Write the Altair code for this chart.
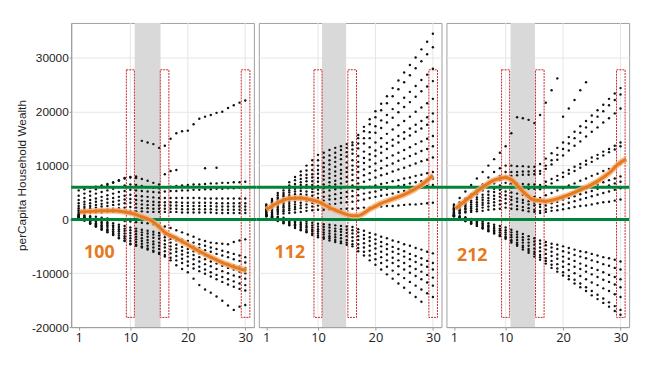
import altair as alt
import pandas as pd

X = list(range(1, 31))
Y_TICKS = [-20000, -10000, 0, 10000, 20000, 30000]
X_TICKS = [1, 10, 20, 30]
X_GRID = [10, 20, 30]
X_DOMAIN = [-0.3, 31.5]
Y_DOMAIN = [-20000, 36500]

PANEL_LABELS = ["100", "112", "212"]
LABEL_X = [4.6, 5.1, 4.2]
LABEL_Y = [-6300, -6300, -6800]
GREEN_Y = [0, 6000]
BAND_X = [10.75, 10.7, 10.85]
BAND_X2 = [15.25, 14.9, 15.1]
BOX_X = [9.3, 15.2, 29.3]
BOX_X2 = [10.7, 16.7, 30.8]
BOX_Y = -18200
BOX_Y2 = 27800

# wealth tracks, thousands, one value per x = 1..30
TRACKS_100 = [
    [5.4,5.6,5.9,6.1,6.3,6.6,6.9,7.3,7.7,7.9, 8.0,14.6,14.3,14.0,13.3, 13.7,15.0,16.0,16.4,16.5, 17.7,18.7,19.1,19.4,19.8, 20.0,20.7,21.2,21.7,22.1],
    [4.4,4.8,5.2,5.6,6.0,6.4,6.8,7.2,7.6,7.8, 7.7,7.5,7.2,6.8,6.5, 8.4,9.0,9.2,None,None, None,None,9.5,None,9.6, None,None,None,None,None],
    [3.6,4.0,4.4,4.8,5.1,5.4,5.7,6.0,6.3,6.5, 6.4,6.2,6.0,5.9,5.8, 6.0,6.1,6.2,6.3,6.4, 6.5,6.5,6.6,6.7,6.7, 6.8,6.8,6.9,6.9,7.0],
    [3.0,3.3,3.6,3.9,4.2,4.5,4.8,5.1,5.3,5.5, 5.4,5.3,5.2,5.1,5.0, 5.2,5.3,5.3,5.4,5.4, 5.5,5.5,5.6,5.6,5.7, 5.7,5.8,5.8,5.9,5.9],
    [2.5,2.8,3.0,3.3,3.5,3.8,4.0,4.2,4.4,4.6, 4.4,4.3,4.2,4.1,4.0, 4.0,4.0,4.0,4.0,4.0, 4.0,4.0,3.9,3.9,3.9, 3.9,3.9,3.9,3.9,3.9],
    [2.1,2.3,2.5,2.7,2.9,3.1,3.3,3.5,3.7,3.8, 3.6,3.5,3.4,3.3,3.2, 3.2,3.2,3.2,3.1,3.1, 3.1,3.1,3.1,3.1,3.0, 3.0,3.0,3.0,3.0,3.0],
    [1.7,1.9,2.1,2.2,2.4,2.5,2.7,2.8,3.0,3.1, 2.9,2.8,2.7,2.7,2.6, 2.6,2.6,2.6,2.5,2.5, 2.5,2.5,2.5,2.5,2.4, 2.4,2.4,2.4,2.4,2.4],
    [1.4,1.5,1.6,1.7,1.8,1.9,2.0,2.1,2.2,2.3, 2.2,2.1,2.1,2.0,2.0, 2.0,2.0,2.0,1.9,1.9, 1.9,1.9,1.9,1.9,1.8, 1.8,1.8,1.8,1.8,1.8],
    [1.1,1.2,1.2,1.3,1.3,1.4,1.4,1.5,1.5,1.6, 1.5,1.5,1.4,1.4,1.4, 1.4,1.4,1.4,1.3,1.3, 1.3,1.3,1.3,1.3,1.2, 1.2,1.2,1.2,1.2,1.2],
    [0.9,0.8,0.6,0.5,0.3,0.2,0.0,-0.1,-0.3,-0.4, -0.5,-0.6,-0.7,-0.9,-1.1, -1.3,-1.6,-2.0,-2.4,-2.8, -3.2,-3.7,-4.0,-4.3,-4.4, -4.5,-4.6,-4.2,-3.9,-3.7],
    [0.8,0.5,0.3,0.0,-0.2,-0.5,-0.7,-1.0,-1.2,-1.5, -1.7,-1.9,-2.1,-2.3,-2.5, -2.8,-3.1,-3.4,-3.7,-4.0, -4.3,-4.6,-4.9,-5.2,-5.5, -5.8,-6.1,-6.4,-6.7,-7.0],
    [0.7,0.4,0.1,-0.2,-0.5,-0.8,-1.1,-1.4,-1.7,-2.0, -2.2,-2.4,-2.6,-2.8,-3.0, -3.3,-3.6,-3.9,-4.3,-4.6, -5.0,-5.3,-5.7,-6.0,-6.4, -6.7,-7.0,-7.4,-7.7,-8.0],
    [0.6,0.3,-0.1,-0.4,-0.8,-1.1,-1.4,-1.8,-2.1,-2.5, -2.7,-2.9,-3.2,-3.4,-3.6, -3.9,-4.3,-4.7,-5.1,-5.5, -5.9,-6.3,-6.7,-7.1,-7.5, -7.9,-8.2,-8.5,-8.8,-9.0],
    [0.5,0.1,-0.3,-0.7,-1.1,-1.4,-1.8,-2.2,-2.6,-3.0, -3.2,-3.5,-3.8,-4.1,-4.3, -4.6,-5.0,-5.4,-5.8,-6.2, -6.6,-7.0,-7.4,-7.8,-8.2, -8.6,-9.0,-9.3,-9.7,-10.0],
    [0.4,0.0,-0.4,-0.9,-1.3,-1.8,-2.2,-2.6,-3.1,-3.5, -3.7,-4.0,-4.3,-4.6,-4.9, -5.2,-5.6,-6.0,-6.5,-6.9, -7.4,-7.8,-8.3,-8.7,-9.2, -9.6,-10.0,-10.4,-10.7,-11.0],
    [0.4,-0.1,-0.6,-1.1,-1.6,-2.0,-2.5,-3.0,-3.5,-4.0, -4.2,-4.5,-4.9,-5.2,-5.5, -5.9,-6.3,-6.8,-7.3,-7.8, -8.3,-8.8,-9.3,-9.8,-10.3, -10.7,-11.1,-11.5,-11.9,-12.2],
    [0.3,-0.2,-0.7,-1.3,-1.8,-2.3,-2.8,-3.4,-3.9,-4.5, -4.7,-5.0,-5.4,-5.8,-6.2, -6.6,-7.1,-7.6,-8.1,-8.6, -9.1,-9.6,-10.1,-10.6,-11.1, -11.6,-12.1,-12.5,-12.9,-13.2],
    [0.3,-0.2,-0.8,-1.3,-1.9,-2.4,-2.9,-3.5,-4.0,-4.6, -4.9,-5.2,-5.6,-6.0,-6.4, -6.9,-7.6,-8.5,-9.2,-9.8, -11.0,-12.2,-13.0,-13.6,-14.3, -15.1,-16.0,-16.8,-16.2,-15.9],
]

TRACKS_112 = [
    [2.8,3.8,4.9,5.9,6.9,7.9,8.9,10.0,11.0,12.0, 12.4,12.9,13.3,13.6,14.0, 14.3,15.7,17.2,18.6,20.1, 21.5,22.9,24.4,25.8,27.3, 28.7,30.1,31.6,33.0,34.5],
    [2.6,3.5,4.5,5.4,6.3,7.3,8.2,9.1,10.1,11.0, 11.5,11.9,12.4,12.9,13.3, 13.8,15.1,16.4,17.7,19.0, 20.3,21.6,22.9,24.2,25.5, 26.8,28.1,29.4,30.7,32.0],
    [2.4,3.2,4.1,4.9,5.8,6.6,7.5,8.3,9.2,10.0, 10.5,11.0,11.5,12.0,12.5, 13.0,14.1,15.1,16.2,17.3, 18.4,19.4,20.5,21.6,22.6, 23.7,24.8,25.9,26.9,28.0],
    [2.3,3.1,3.8,4.6,5.4,6.1,6.9,7.7,8.4,9.2, 9.7,10.2,10.7,11.2,11.7, 12.2,13.2,14.1,15.1,16.1, 17.0,18.0,18.9,19.9,20.9, 21.8,22.8,23.8,24.7,25.7],
    [2.2,2.9,3.6,4.3,5.0,5.7,6.4,7.1,7.8,8.5, 8.9,9.3,9.8,10.2,10.6, 11.0,11.8,12.6,13.4,14.3, 15.1,15.9,16.7,17.5,18.3, 19.1,20.0,20.8,21.6,22.4],
    [2.0,2.6,3.3,3.9,4.5,5.2,5.8,6.4,7.1,7.7, 8.1,8.5,8.9,9.2,9.6, 10.0,10.7,11.4,12.1,12.8, 13.5,14.2,14.8,15.5,16.2, 16.9,17.6,18.3,19.0,19.7],
    [1.9,2.5,3.0,3.6,4.2,4.7,5.3,5.9,6.4,7.0, 7.4,7.7,8.1,8.5,8.8, 9.2,9.8,10.5,11.1,11.8, 12.4,13.1,13.7,14.3,15.0, 15.6,16.3,16.9,17.6,18.2],
    [1.7,2.2,2.7,3.2,3.7,4.2,4.7,5.2,5.7,6.2, 6.5,6.9,7.2,7.6,7.9, 8.3,8.8,9.3,9.8,10.4, 10.9,11.4,11.9,12.4,12.9, 13.4,14.0,14.5,15.0,15.5],
    [1.6,2.0,2.5,2.9,3.3,3.8,4.2,4.6,5.1,5.5, 5.8,6.2,6.5,6.7,7.0, 7.3,7.7,8.2,8.6,9.1, 9.5,10.0,10.4,10.9,11.3, 11.8,12.2,12.7,13.1,13.6],
    [1.4,1.8,2.2,2.5,2.9,3.3,3.7,4.0,4.4,4.8, 5.1,5.4,5.6,5.8,6.1, 6.3,6.7,7.0,7.4,7.8, 8.2,8.5,8.9,9.3,9.6, 10.0,10.4,10.8,11.1,11.5],
    [1.3,1.6,1.9,2.2,2.5,2.8,3.1,3.4,3.7,4.0, 4.2,4.4,4.7,4.9,5.1, 5.3,5.6,5.8,6.1,6.3, 6.6,6.8,7.1,7.3,7.6, 7.8,8.1,8.3,8.6,8.8],
    [1.1,1.3,1.6,1.8,2.1,2.3,2.6,2.8,3.1,3.3, 3.5,3.7,3.8,4.0,4.2, 4.3,4.5,4.8,5.0,5.2, 5.5,5.7,6.0,6.2,6.4, 6.7,6.9,7.1,7.4,7.6],
    [1.0,1.2,1.4,1.5,1.7,1.9,2.1,2.2,2.4,2.6, 2.7,2.8,2.9,3.1,3.2, 3.3,3.5,3.7,4.0,4.2, 4.4,4.6,4.8,5.1,5.3, 5.5,5.7,5.9,6.2,6.4],
    [0.8,0.9,1.0,1.1,1.2,1.3,1.4,1.6,1.7,1.8, 1.8,1.9,1.9,1.9,2.0, 2.0,2.1,2.2,2.2,2.3, 2.4,2.5,2.5,2.6,2.7, 2.8,2.8,2.9,3.0,3.1],
    [0.9,0.7,0.5,0.3,0.1,0.0,-0.2,-0.4,-0.6,-0.8, -0.9,-1.0,-1.1,-1.2,-1.3, -1.4,-1.8,-2.1,-2.5,-2.8, -3.2,-3.5,-3.9,-4.2,-4.6, -4.9,-5.3,-5.6,-6.0,-6.3],
    [0.8,0.6,0.4,0.1,-0.1,-0.4,-0.6,-0.8,-1.1,-1.3, -1.4,-1.5,-1.7,-1.8,-1.9, -2.0,-2.4,-2.9,-3.3,-3.7, -4.2,-4.6,-5.1,-5.5,-5.9, -6.4,-6.8,-7.2,-7.7,-8.1],
    [0.8,0.5,0.2,-0.1,-0.4,-0.6,-0.9,-1.2,-1.5,-1.8, -1.9,-2.1,-2.2,-2.3,-2.5, -2.6,-3.1,-3.6,-4.0,-4.5, -5.0,-5.5,-6.0,-6.4,-6.9, -7.4,-7.9,-8.4,-8.8,-9.3],
    [0.7,0.4,0.1,-0.2,-0.6,-0.9,-1.2,-1.5,-1.9,-2.2, -2.4,-2.6,-2.8,-2.9,-3.1, -3.3,-3.8,-4.4,-4.9,-5.4, -6.0,-6.5,-7.1,-7.6,-8.1, -8.7,-9.2,-9.7,-10.3,-10.8],
    [0.7,0.3,0.0,-0.4,-0.8,-1.1,-1.5,-1.9,-2.2,-2.6, -2.8,-3.1,-3.3,-3.5,-3.8, -4.0,-4.6,-5.2,-5.8,-6.4, -7.0,-7.6,-8.1,-8.7,-9.3, -9.9,-10.5,-11.1,-11.7,-12.3],
    [0.6,0.2,-0.2,-0.6,-1.0,-1.4,-1.8,-2.2,-2.6,-3.0, -3.3,-3.5,-3.8,-4.1,-4.3, -4.6,-5.3,-6.0,-6.7,-7.4, -8.1,-8.8,-9.5,-10.2,-10.9, -11.6,-12.3,-13.0,-13.7,-14.4],
    [0.6,0.2,-0.3,-0.7,-1.1,-1.6,-2.0,-2.4,-2.9,-3.3, -3.6,-3.9,-4.2,-4.4,-4.7, -5.0,-5.9,-6.7,-7.6,-8.4, -9.3,-10.2,-11.0,-11.9,-12.7, -13.6,-14.4,-15.3,None,None],
]

TRACKS_212 = [
    [2.8,4.0,5.2,6.4,7.6,8.8,10.0,11.2,12.4,13.6, 16.0,19.0,18.8,18.5,17.9, 19.4,21.7,24.0,26.2,19.1, 20.6,22.2,24.0,25.5,None, None,None,None,None,None],
    [2.5,3.2,3.9,4.7,5.4,6.5,7.8,8.8,9.5,10.0, 10.0,9.9,9.9,9.8,9.8, 10.3,11.3,12.3,13.3,14.3, 15.3,16.3,17.3,18.3,19.3, 20.3,21.3,22.4,23.4,24.4],
    [2.3,3.0,3.7,4.5,5.2,5.9,6.6,7.3,8.1,8.8, 8.8,8.8,8.9,8.9,9.0, 9.0,10.0,11.0,12.0,13.1, 14.1,15.1,16.1,17.1,18.1, 19.1,20.1,21.2,22.2,23.2],
    [2.1,2.8,3.4,4.1,4.7,5.4,6.0,6.7,7.3,8.0, 8.1,8.2,8.3,8.3,8.4, 8.5,9.4,10.2,11.1,11.9, 12.8,13.7,14.5,15.4,16.3, 17.1,18.0,18.8,19.7,20.6],
    [1.9,2.4,3.0,3.5,4.1,4.6,5.2,5.7,6.3,6.8, 6.7,6.7,6.6,6.5,6.5, 6.4,7.0,7.5,8.1,8.7, 9.2,9.8,10.3,10.9,11.5, 12.0,12.6,13.1,13.7,14.3],
    [1.8,2.3,2.7,3.2,3.7,4.1,4.6,5.1,5.5,6.0, 5.9,5.9,5.8,5.7,5.7, 5.6,6.2,6.7,7.3,7.9, 8.5,9.0,9.6,10.2,10.7, 11.3,11.9,12.5,13.0,13.6],
    [1.6,2.0,2.4,2.8,3.2,3.6,4.0,4.4,4.8,5.2, 5.0,4.8,4.6,4.4,4.2, 4.0,4.5,4.9,5.4,5.8, 6.3,6.7,7.2,7.6,8.1, 8.5,9.0,9.4,9.9,10.3],
    [1.4,1.7,2.1,2.4,2.8,3.1,3.5,3.8,4.2,4.5, 4.2,3.9,3.6,3.4,3.1, 2.8,3.2,3.6,3.9,4.3, 4.7,5.0,5.4,5.8,6.1, 6.5,6.9,7.3,7.6,8.0],
    [1.3,1.6,1.9,2.1,2.4,2.7,3.0,3.2,3.5,3.8, 3.6,3.3,3.1,2.8,2.6, 2.3,2.6,3.0,3.3,3.7, 4.0,4.3,4.7,5.0,5.3, 5.7,6.0,6.3,6.7,7.0],
    [1.1,1.3,1.5,1.7,1.9,2.2,2.4,2.6,2.8,3.0, 2.8,2.5,2.3,2.1,1.8, 1.6,1.9,2.2,2.5,2.8, 3.1,3.4,3.7,4.0,4.3, 4.6,4.9,5.2,5.5,5.8],
    [1.0,1.1,1.3,1.4,1.5,1.6,1.8,1.9,2.0,2.2, 2.0,1.9,1.7,1.5,1.4, 1.2,1.4,1.6,1.7,1.9, 2.1,2.3,2.5,2.6,2.8, 3.0,3.2,3.3,3.5,3.7],
    [0.9,0.6,0.4,0.1,-0.2,-0.4,-0.7,-1.0,-1.2,-1.5, -1.9,-2.3,-2.7,-3.1,-3.5, -3.9,-4.2,-4.5,-4.7,-5.0, -5.3,-5.6,-5.9,-6.1,-6.4, -6.7,-7.0,-7.2,-7.5,-7.8],
    [0.8,0.5,0.2,-0.1,-0.4,-0.7,-1.1,-1.4,-1.7,-2.0, -2.4,-2.8,-3.3,-3.7,-4.1, -4.5,-4.8,-5.2,-5.5,-5.9, -6.2,-6.6,-6.9,-7.2,-7.6, -7.9,-8.3,-8.6,-9.0,-9.3],
    [0.8,0.4,0.1,-0.3,-0.6,-1.0,-1.3,-1.7,-2.0,-2.4, -2.9,-3.3,-3.8,-4.3,-4.7, -5.2,-5.6,-6.0,-6.5,-6.9, -7.3,-7.7,-8.2,-8.6,-9.0, -9.4,-9.8,-10.3,-10.7,-11.1],
    [0.7,0.3,0.0,-0.4,-0.8,-1.2,-1.6,-2.0,-2.4,-2.8, -3.3,-3.8,-4.3,-4.9,-5.4, -5.9,-6.4,-6.8,-7.3,-7.8, -8.3,-8.8,-9.2,-9.7,-10.2, -10.7,-11.2,-11.6,-12.1,-12.6],
    [0.7,0.3,-0.2,-0.6,-1.0,-1.5,-1.9,-2.3,-2.8,-3.2, -3.8,-4.3,-4.9,-5.5,-6.0, -6.6,-7.2,-7.7,-8.3,-8.8, -9.4,-10.0,-10.5,-11.1,-11.7, -12.2,-12.8,-13.3,-13.9,-14.4],
    [0.6,0.2,-0.3,-0.7,-1.2,-1.6,-2.1,-2.5,-3.0,-3.4, -4.0,-4.6,-5.2,-5.8,-6.4, -7.0,-7.7,-8.4,-9.1,-9.8, -10.5,-11.2,-11.9,-12.6,-13.3, -14.0,-14.7,-15.4,-16.1,-16.8],
    [0.6,0.2,-0.3,-0.8,-1.2,-1.7,-2.2,-2.6,-3.1,-3.6, -4.3,-4.9,-5.6,-6.2,-6.9, -7.5,-8.2,-9.0,-9.7,-10.4, -11.1,-11.9,-12.6,-13.3,-14.1, -14.8,-15.5,-16.2,-17.0,-17.7],
]

ORANGE_X_100 = [1.2, 3, 5, 7, 9, 10, 11, 12, 13, 14, 15, 16, 18, 20, 22, 24, 26, 28, 30.2]
ORANGE_Y_100 = [1400, 1500, 1600, 1600, 1400, 1200, 900, 500, 100, -500, -1400, -2400, -3500, -4700, -5900, -7000, -8000, -8800, -9500]
ORANGE_X_112 = [1, 3, 5, 7, 9, 10, 12, 14, 16, 17, 19, 21, 23, 25, 28, 30]
ORANGE_Y_112 = [1800, 3100, 3900, 4000, 3600, 3300, 2200, 1300, 700, 700, 1900, 3000, 3800, 4600, 6400, 8200]
ORANGE_X_212 = [1.3, 3, 5, 8, 10, 11, 13, 15, 17, 20, 23, 26, 28, 30, 31]
ORANGE_Y_212 = [2000, 3500, 5200, 7300, 7800, 7400, 5200, 3600, 3400, 4200, 5500, 7100, 8600, 10600, 11200]

W, H = 185, 308
GAP = 5
ORANGE = "#e6781e"
ORANGE_GLOW = "#f5b07a"
GREEN = "#00843a"
RED = "#c8282a"
GREY_BAND = "#d9d9d9"
GRID = "#e6e6e6"


def panel(idx, tracks, ox, oy):
    first = idx == 0
    last = idx == 2
    rows = [{"x": X[i], "y": v * 1000} for t in tracks for i, v in enumerate(t) if v is not None]
    dots = pd.DataFrame(rows)
    xs = alt.Scale(domain=X_DOMAIN, nice=False, zero=False)
    ys = alt.Scale(domain=Y_DOMAIN, nice=False, zero=False)
    xaxis = alt.Axis(values=X_TICKS, grid=False, title=None, labelFontSize=13,
                     labelFont="Open Sans", labelColor="#222", tickSize=3,
                     domainColor="#999", tickColor="#999", labelPadding=2, labelFlush=False)
    if first:
        yaxis = alt.Axis(values=Y_TICKS, grid=True, gridColor=GRID,
                         labelExpr="datum.value < 0 ? '-' + format(-datum.value, 'd') : format(datum.value, 'd')",
                         title="perCapita Household Wealth", titleFontSize=12,
                         titleFontWeight="normal", titleFont="Liberation Sans",
                         titleColor="#222", titlePadding=3, labelFontSize=12,
                         labelFont="Liberation Sans", labelColor="#222", tickSize=2,
                         labelPadding=1, domainColor="#999", tickColor="#999")
    else:
        yaxis = alt.Axis(values=Y_TICKS, grid=True, gridColor=GRID, labels=False,
                         ticks=False, domain=False, title=None)
    xe = alt.X("x:Q", scale=xs, axis=xaxis)
    ye = alt.Y("y:Q", scale=ys, axis=yaxis)

    band = alt.Chart(pd.DataFrame({"x": [BAND_X[idx]], "x2": [BAND_X2[idx]]})).mark_rect(
        color=GREY_BAND).encode(x=xe, x2="x2:Q", y=alt.value(0), y2=alt.value(H))
    xgrid = alt.Chart(pd.DataFrame({"x": X_GRID})).mark_rule(color=GRID, strokeWidth=1).encode(
        x=xe, y=alt.value(0), y2=alt.value(H))
    boxes = alt.Chart(pd.DataFrame({"x": BOX_X, "x2": BOX_X2,
                                    "y": [BOX_Y] * 3, "y2": [BOX_Y2] * 3})).mark_rect(
        fill="#ffffff", fillOpacity=0, stroke=RED, strokeWidth=1, strokeDash=[2, 1]).encode(
        x=xe, x2="x2:Q", y=ye, y2="y2:Q")
    pts = alt.Chart(dots).mark_circle(size=6, color="#111", opacity=1).encode(x=xe, y=ye)
    green = alt.Chart(pd.DataFrame({"y": GREEN_Y})).mark_rect(color=GREEN, height=3).encode(
        y=ye, x=alt.value(0 if first else -GAP / 2), x2=alt.value(W if last else W + GAP / 2))
    odf = pd.DataFrame({"x": ox, "y": oy})
    glow = alt.Chart(odf).mark_line(color=ORANGE_GLOW, strokeWidth=6, opacity=0.8,
                                    interpolate="monotone").encode(x=xe, y=ye)
    line = alt.Chart(odf).mark_line(color=ORANGE, strokeWidth=3,
                                    interpolate="monotone").encode(x=xe, y=ye)
    label = alt.Chart(pd.DataFrame({"x": [LABEL_X[idx]], "y": [LABEL_Y[idx]],
                                    "t": [PANEL_LABELS[idx]]})).mark_text(
        font="Open Sans", fontSize=18, fontWeight="bold", color=ORANGE).encode(
        x=xe, y=ye, text="t:N")
    return alt.layer(band, xgrid, boxes, pts, green, glow, line, label).properties(
        width=W, height=H)


chart = alt.hconcat(
    panel(0, TRACKS_100, ORANGE_X_100, ORANGE_Y_100),
    panel(1, TRACKS_112, ORANGE_X_112, ORANGE_Y_112),
    panel(2, TRACKS_212, ORANGE_X_212, ORANGE_Y_212),
    spacing=GAP,
    bounds="flush",
).properties(
    padding={"left": 7, "top": 12, "right": 0, "bottom": 0}
).configure_view(stroke="#a0a0a0", strokeWidth=1)

chart.save("out.html", embed_options={"renderer": "svg", "actions": False})
